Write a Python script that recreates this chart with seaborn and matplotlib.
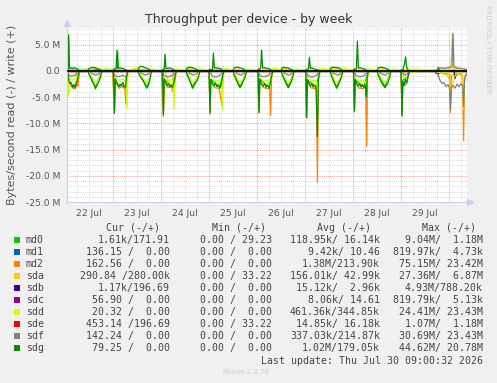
import pandas as pd
import seaborn as sns
import matplotlib
matplotlib.use('Agg')
import matplotlib.pyplot as plt
from matplotlib.patches import Rectangle

W, H = 497, 383

# hours since 22 Jul 00:00 -> MB/s ; read is drawn negative, write positive
md0_read = [(1.0, -0.2), (1.5, -0.4), (2.0, -1.8), (4.0, -2.9), (5.0, -3.0), (6.5, -1.0), (7.5, 0.0),
            (11.5, 0.0), (15.2, -3.1), (18.3, 0.0), (24.0, 0.0), (24.7, -7.6), (25.1, -1.6), (27.0, -2.8), (30.2, -3.0), (31.5, 0.0),
            (36.6, 0.0), (41.0, -3.1), (43.2, 0.0), (48.5, 0.0), (49.2, -8.0), (49.6, -1.6), (53.7, -3.0), (55.6, 0.0),
            (60.6, 0.0), (63.8, -3.1), (67.4, 0.0), (72.0, 0.0), (72.5, -7.6), (72.9, -1.6), (77.4, -3.1), (79.5, 0.0),
            (84.1, 0.0), (87.5, -3.0), (90.9, 0.0), (96.4, 0.0), (97.0, -7.5), (97.4, -1.6), (102.0, -3.1), (104.0, 0.0),
            (108.1, 0.0), (111.7, -3.0), (114.6, 0.0), (120.4, 0.0), (120.8, -8.4), (121.2, -1.7), (125.5, -3.0), (127.5, 0.0),
            (132.6, 0.0), (135.8, -3.1), (138.9, 0.0), (144.3, 0.0), (144.7, -7.3), (145.1, -1.7), (149.4, -3.0), (151.8, 0.0),
            (156.1, 0.0), (160.0, -3.0), (162.9, 0.0), (168.1, 0.0), (168.5, -8.2), (168.9, -1.8), (171.5, -0.9), (172.3, 0.0),
            (201.0, 0.0)]
md0_write = [(1.0, 0.0), (1.8, 6.5), (2.2, 0.3), (26.0, 0.3), (26.3, 3.7), (26.7, 0.2), (201.0, 0.1)]
md1_read = [(1.0, 0.0), (120.0, 0.0), (120.8, -0.3), (121.5, 0.0), (201.0, 0.0)]
md1_write = [(1.0, 0.0), (201.0, 0.0)]
md2_read = [(1.0, 0.0), (1.5, -0.4), (2.5, -2.6), (4.0, -3.3), (5.2, -3.4), (6.0, -2.2), (6.5, -3.0), (7.2, 0.0),
            (23.8, 0.0), (24.7, -8.0), (25.2, -2.0), (27.0, -3.3), (28.5, -3.0), (30.0, -3.4), (30.5, -6.4), (31.0, -1.2), (31.6, 0.0),
            (48.2, 0.0), (49.2, -8.7), (49.6, -2.0), (51.5, -3.2), (53.0, -3.0), (54.0, -4.0), (54.6, -3.5), (55.6, 0.0),
            (72.0, 0.0), (72.5, -8.2), (72.9, -2.0), (75.0, -3.2), (77.0, -3.3), (78.5, -6.5), (79.0, -1.2), (79.6, 0.0),
            (96.3, 0.0), (97.0, -8.0), (97.4, -2.0), (99.5, -3.2), (101.5, -3.4), (102.3, -3.0), (102.8, -8.5), (103.3, -1.0), (104.0, 0.0),
            (120.3, 0.0), (120.8, -9.0), (121.2, -2.0), (123.0, -3.2), (125.0, -3.4), (125.7, -3.0), (126.2, -21.2), (126.7, -1.5), (127.6, 0.0),
            (144.2, 0.0), (144.7, -7.8), (145.1, -2.0), (147.0, -3.3), (149.0, -3.4), (150.3, -3.0), (150.8, -14.4), (151.3, -1.0), (152.0, 0.0),
            (168.0, 0.0), (168.5, -8.5), (168.9, -2.5), (170.0, -2.8), (171.0, -2.0), (172.4, 0.0),
            (185.0, 0.0), (186.0, -0.4), (190.0, -0.5), (192.2, -0.6), (192.7, -7.9), (193.2, -0.8), (198.0, -0.5),
            (198.8, -1.0), (199.3, -13.3), (199.8, -1.0), (201.0, -0.3)]
md2_write = [(1.0, 0.0), (186.0, 0.0), (188.0, 0.3), (192.0, 0.2), (196.0, 0.4), (201.0, 0.2)]
sda_read = [(1.0, 0.0), (5.5, 0.0), (6.0, -2.5), (6.5, 0.0), (48.0, 0.0), (50.0, -0.3), (53.5, -3.5), (54.0, -0.5), (55.0, 0.0),
            (185.5, 0.0), (187.0, -0.3), (189.0, -0.5), (191.0, -0.8), (192.0, -1.5), (193.0, -3.8), (194.0, -2.5), (195.0, -1.0),
            (197.0, -0.6), (198.5, -1.0), (199.3, -7.4), (199.8, -1.0), (201.0, -0.3)]
sda_write = [(1.0, 0.0), (185.5, 0.0), (187.0, 0.4), (189.0, 0.5), (191.0, 0.3), (193.0, 0.6), (193.7, 6.9), (194.3, 0.5),
             (196.0, 0.4), (198.0, 0.3), (201.0, 0.2)]
sdb_read = [(1.0, 0.0), (185.5, 0.0), (186.0, -0.4), (186.5, -0.6), (187.0, -0.3), (188.0, 0.0), (194.5, 0.0), (195.0, -1.4),
            (195.6, -0.5), (196.2, 0.0), (201.0, 0.0)]
sdb_write = [(1.0, 0.0), (201.0, 0.0)]
sdc_read = [(1.0, 0.0), (185.0, 0.0), (185.5, -0.5), (186.0, -0.3), (186.5, 0.0), (201.0, 0.0)]
sdc_write = [(1.0, 0.0), (201.0, 0.0)]
sdd_read = [(1.0, 0.0), (1.4, -0.5), (1.8, -4.9), (2.2, -1.2), (3.5, -1.8), (5.0, -1.5), (6.5, -1.0), (7.5, 0.0),
            (11.8, 0.0), (12.5, -0.6), (14.0, -1.5), (15.2, -2.6), (16.5, -1.9), (17.5, -0.9), (18.3, 0.0),
            (24.2, 0.0), (25.0, -1.2), (27.0, -1.8), (29.0, -1.5), (30.6, -2.0), (31.0, -7.2), (31.4, -0.8), (32.0, 0.0),
            (36.8, 0.0), (37.8, -0.8), (39.5, -1.6), (41.0, -2.5), (42.2, -1.5), (43.0, 0.0),
            (48.5, 0.0), (49.5, -1.2), (51.5, -1.9), (53.5, -1.6), (54.1, -2.2), (54.5, -7.3), (54.9, -1.0), (55.5, 0.0),
            (60.8, 0.0), (61.8, -0.8), (63.8, -2.5), (65.5, -1.6), (67.2, 0.0),
            (72.8, 0.0), (73.5, -1.2), (75.5, -1.9), (77.5, -1.7), (78.3, -2.0), (78.7, -7.2), (79.1, -0.9), (79.7, 0.0),
            (84.3, 0.0), (85.3, -0.9), (87.5, -2.4), (89.2, -1.5), (90.7, 0.0),
            (96.8, 0.0), (97.6, -1.3), (99.5, -1.9), (101.5, -1.8), (102.4, -3.0), (103.0, -1.0), (103.8, 0.0),
            (108.3, 0.0), (109.2, -0.8), (111.7, -2.4), (113.3, -1.4), (114.5, 0.0),
            (120.8, 0.0), (121.5, -1.3), (123.5, -1.9), (125.5, -1.8), (126.4, -3.5), (127.0, -1.0), (127.8, 0.0),
            (132.8, 0.0), (133.8, -0.9), (135.8, -2.5), (137.5, -1.5), (138.8, 0.0),
            (144.8, 0.0), (145.5, -1.3), (147.5, -1.9), (149.5, -1.7), (150.5, -2.5), (151.2, -1.0), (152.0, 0.0),
            (156.3, 0.0), (157.3, -0.9), (160.0, -2.4), (161.8, -1.4), (162.8, 0.0),
            (168.6, 0.0), (169.2, -1.0), (170.5, -1.6), (172.0, 0.0), (175.0, -0.3), (178.0, 0.0), (181.0, -0.2),
            (184.0, 0.0), (188.0, -0.4), (191.0, -0.2), (194.5, -1.2), (196.0, -0.3), (201.0, 0.0)]
sdd_write = [(1.0, 0.2), (3.0, 0.4), (6.0, 0.3), (9.0, 0.2), (10.5, 0.4), (13.0, 0.3), (16.0, 0.5), (19.0, 0.3), (21.0, 0.4),
             (23.0, 0.2), (27.0, 0.4), (30.0, 0.3), (33.0, 0.2), (34.5, 0.5), (37.5, 0.4), (40.0, 0.3), (44.0, 0.4),
             (46.0, 0.2), (50.5, 0.4), (53.0, 0.3), (57.0, 0.4), (59.0, 0.2), (62.0, 0.5), (65.5, 0.3), (68.5, 0.4),
             (71.0, 0.2), (75.0, 0.4), (78.0, 0.3), (81.0, 0.5), (83.0, 0.2), (86.0, 0.4), (89.0, 0.3), (92.0, 0.4),
             (95.0, 0.2), (99.0, 0.4), (102.0, 0.3), (105.0, 0.5), (107.0, 0.3), (110.0, 0.5), (113.0, 0.3), (116.0, 0.4),
             (119.0, 0.2), (123.0, 0.4), (126.0, 0.3), (129.0, 0.5), (131.0, 0.3), (134.0, 0.5), (137.0, 0.4), (140.0, 0.6),
             (142.0, 0.3), (147.0, 0.4), (150.0, 0.3), (153.0, 0.4), (155.0, 0.2), (158.0, 0.5), (161.0, 0.3), (164.0, 0.4),
             (167.0, 0.2), (171.0, 0.4), (174.0, 0.3), (177.0, 0.4), (180.0, 0.2), (183.0, 0.3), (186.0, 0.2), (190.0, 0.3),
             (194.0, 0.2), (198.0, 0.3), (201.0, 0.2)]
sde_read = [(1.0, 0.0), (201.0, 0.0)]
sde_write = [(1.0, 0.0), (1.2, 0.3), (1.8, 0.0), (24.2, 0.0), (24.6, 0.4), (25.0, 0.0), (48.6, 0.0), (49.0, 0.3), (49.4, 0.0),
             (72.0, 0.0), (72.4, 0.4), (72.8, 0.0), (96.5, 0.0), (96.9, 0.4), (97.3, 0.0), (120.3, 0.0), (120.7, 0.3),
             (121.1, 0.0), (144.2, 0.0), (144.6, 0.4), (145.0, 0.0), (168.0, 0.0), (168.4, 0.3), (168.8, 0.0),
             (186.0, 0.0), (186.7, 0.7), (187.3, 0.0), (201.0, 0.0)]
sdf_read = [(1.0, -0.3), (1.5, -0.6), (3.0, -1.0), (5.0, -0.8), (7.0, 0.0),
            (12.0, 0.0), (13.5, -0.5), (15.5, -0.8), (17.5, -0.4), (18.5, 0.0),
            (24.0, 0.0), (25.0, -0.9), (27.0, -1.1), (29.0, -0.8), (30.5, -1.2), (31.5, 0.0),
            (37.0, 0.0), (38.5, -0.5), (40.5, -0.8), (42.5, -0.3), (43.3, 0.0),
            (48.5, 0.0), (49.5, -0.9), (51.5, -1.1), (53.5, -0.9), (55.5, 0.0),
            (61.0, 0.0), (62.5, -0.5), (64.5, -0.8), (66.5, -0.3), (67.3, 0.0),
            (72.5, 0.0), (73.5, -0.9), (75.5, -1.2), (77.5, -0.8), (79.5, 0.0),
            (84.5, 0.0), (86.0, -0.5), (88.0, -0.8), (90.0, -0.3), (90.8, 0.0),
            (96.5, 0.0), (97.5, -0.9), (99.5, -1.1), (101.5, -0.9), (103.8, 0.0),
            (108.5, 0.0), (110.0, -0.5), (112.0, -0.8), (114.0, -0.3), (114.5, 0.0),
            (120.5, 0.0), (121.5, -0.9), (123.5, -1.2), (125.5, -0.9), (127.5, 0.0),
            (133.0, 0.0), (134.5, -0.5), (136.5, -0.8), (138.5, -0.3), (139.0, 0.0),
            (144.5, 0.0), (145.5, -0.9), (147.5, -1.1), (149.5, -0.9), (151.8, 0.0),
            (156.5, 0.0), (158.0, -0.5), (160.0, -0.8), (162.0, -0.3), (162.8, 0.0),
            (168.5, 0.0), (169.5, -0.8), (171.0, -0.6), (172.5, 0.0),
            (185.5, 0.0), (186.5, -0.8), (187.5, -1.8), (188.5, -2.4), (189.5, -2.2), (190.5, -3.0), (191.5, -2.6),
            (192.2, -3.2), (192.7, -7.4), (193.2, -3.0), (194.0, -2.8), (195.0, -3.3), (196.0, -2.5), (197.0, -3.0),
            (198.0, -2.4), (198.8, -2.8), (199.3, -6.8), (199.8, -1.5), (200.5, -0.8), (201.0, -0.5)]
sdf_write = [(1.0, 0.0), (185.0, 0.0), (186.5, 0.4), (188.0, 0.6), (190.0, 0.5), (192.0, 0.7), (193.5, 0.8), (194.0, 7.2),
             (194.5, 0.8), (196.0, 0.6), (198.0, 0.5), (199.0, 0.4), (201.0, 0.3)]
sdg_read = [(1.0, -0.3), (1.5, -0.5), (2.0, -2.0), (2.5, -2.4), (3.0, -2.2), (3.5, -2.8), (4.0, -3.1), (4.5, -2.6), (5.0, -3.2),
            (5.5, -2.7), (6.0, -2.0), (6.5, -1.2), (7.0, -0.3), (7.5, 0.0),
            (11.5, 0.0), (12.0, -0.7), (13.0, -1.4), (14.0, -2.3), (14.5, -2.6), (15.2, -3.4), (15.8, -2.9), (16.5, -2.4),
            (17.0, -2.0), (17.8, -1.1), (18.5, 0.0),
            (23.5, 0.0), (24.3, -0.4), (24.7, -8.1), (25.1, -1.5), (25.7, -2.2), (26.3, -2.6), (27.0, -3.0), (27.7, -2.5),
            (28.3, -2.8), (29.0, -2.2), (29.6, -2.9), (30.2, -3.2), (30.8, -1.0), (31.5, 0.0),
            (36.5, 0.0), (37.2, -0.8), (38.0, -1.3), (39.0, -1.8), (40.0, -2.6), (41.0, -3.3), (41.8, -2.6), (42.5, -1.5), (43.3, 0.0),
            (47.5, 0.0), (48.8, -0.4), (49.2, -8.4), (49.6, -1.5), (50.3, -2.1), (51.0, -2.8), (51.7, -2.4), (52.3, -3.1),
            (53.0, -2.6), (53.7, -3.2), (54.3, -2.5), (55.0, -1.0), (55.7, 0.0),
            (60.5, 0.0), (61.2, -0.9), (62.0, -1.5), (63.0, -2.5), (63.8, -3.3), (64.5, -2.8), (65.3, -2.2), (66.2, -1.8),
            (67.0, -0.8), (67.5, 0.0),
            (71.5, 0.0), (72.1, -0.4), (72.5, -8.0), (72.9, -1.6), (73.6, -2.2), (74.5, -2.9), (75.2, -2.3), (76.0, -3.0),
            (76.7, -2.6), (77.4, -3.3), (78.0, -2.7), (78.7, -1.2), (79.5, 0.0),
            (84.0, 0.0), (84.7, -0.9), (85.5, -1.6), (86.5, -2.5), (87.5, -3.2), (88.3, -2.7), (89.0, -2.0), (89.8, -1.4),
            (90.5, -0.5), (91.0, 0.0),
            (95.5, 0.0), (96.6, -0.4), (97.0, -7.9), (97.4, -1.5), (98.2, -2.4), (99.0, -2.9), (99.8, -2.4), (100.5, -3.1),
            (101.2, -2.7), (102.0, -3.3), (102.6, -2.5), (103.2, -1.0), (104.0, 0.0),
            (108.0, 0.0), (108.7, -0.8), (109.5, -1.5), (110.5, -2.4), (111.7, -3.2), (112.5, -2.6), (113.3, -1.9),
            (114.0, -1.0), (114.7, 0.0),
            (119.5, 0.0), (120.4, -0.4), (120.8, -8.9), (121.2, -1.6), (122.0, -2.3), (122.7, -2.9), (123.4, -2.4),
            (124.1, -3.1), (124.8, -2.7), (125.5, -3.2), (126.2, -12.5), (126.7, -1.5), (127.5, 0.0),
            (132.5, 0.0), (133.2, -0.9), (134.0, -1.7), (135.0, -2.6), (135.8, -3.3), (136.6, -2.7), (137.4, -2.0),
            (138.2, -1.2), (139.0, 0.0),
            (143.5, 0.0), (144.3, -0.4), (144.7, -7.7), (145.1, -1.6), (145.8, -2.3), (146.6, -2.9), (147.3, -2.4),
            (148.0, -3.1), (148.7, -2.6), (149.4, -3.2), (150.1, -2.6), (150.6, -5.0), (151.1, -1.0), (151.8, 0.0),
            (156.0, 0.0), (156.7, -0.9), (157.5, -1.6), (158.5, -2.4), (160.0, -3.2), (160.8, -2.7), (161.6, -2.1),
            (162.3, -1.2), (163.0, 0.0),
            (167.5, 0.0), (168.1, -0.5), (168.5, -8.6), (168.9, -2.0), (169.5, -2.8), (170.2, -1.5), (170.8, -2.4),
            (171.5, -1.0), (172.3, 0.0), (201.0, 0.0)]
sdg_write = [(1.0, 0.0), (1.5, 0.3), (1.8, 6.9), (2.2, 0.5), (3.0, 0.6), (4.0, 0.5), (5.0, 0.6), (6.0, 0.4), (7.0, 0.1), (8.0, 0.0),
             (11.5, 0.0), (12.0, 0.5), (13.0, 0.6), (14.0, 0.7), (15.0, 0.6), (16.5, 0.4), (17.5, 0.2), (18.5, 0.0),
             (23.5, 0.0), (24.5, 0.2), (25.5, 0.4), (26.0, 4.0), (26.5, 0.5), (27.5, 0.6), (28.5, 0.5), (29.5, 0.4), (30.5, 0.2), (31.5, 0.0),
             (36.5, 0.0), (37.0, 0.7), (38.0, 0.9), (39.0, 0.8), (40.0, 0.6), (41.0, 0.5), (42.0, 0.3), (43.0, 0.0),
             (47.5, 0.0), (49.0, 0.2), (49.6, 0.3), (50.0, 3.2), (50.5, 0.5), (51.5, 0.5), (52.5, 0.6), (53.5, 0.4), (54.5, 0.2), (55.5, 0.0),
             (60.5, 0.0), (61.0, 0.6), (62.0, 0.7), (63.0, 0.7), (64.0, 0.6), (65.0, 0.4), (66.0, 0.3), (67.0, 0.0),
             (71.5, 0.0), (73.0, 0.2), (73.8, 0.3), (74.2, 3.4), (74.7, 0.6), (75.5, 0.6), (76.5, 0.5), (77.5, 0.5), (78.5, 0.2), (79.5, 0.0),
             (84.0, 0.0), (84.5, 0.6), (85.5, 0.7), (86.5, 0.7), (87.5, 0.6), (88.5, 0.5), (89.5, 0.3), (90.5, 0.0),
             (95.5, 0.0), (97.0, 0.3), (97.8, 0.5), (98.3, 4.0), (98.8, 0.6), (99.5, 0.7), (100.5, 0.5), (101.5, 0.5), (102.5, 0.3), (103.5, 0.0),
             (108.0, 0.0), (108.5, 0.6), (109.5, 0.7), (110.5, 0.6), (111.5, 0.6), (112.5, 0.4), (113.5, 0.2), (114.5, 0.0),
             (119.5, 0.0), (121.0, 0.3), (121.7, 0.4), (122.2, 2.6), (122.7, 0.5), (123.5, 0.6), (124.5, 0.4), (125.5, 0.3), (126.5, 0.2), (127.5, 0.0),
             (132.5, 0.0), (133.0, 0.6), (134.0, 0.7), (135.0, 0.7), (136.0, 0.6), (137.0, 0.6), (138.0, 0.3), (139.0, 0.0),
             (143.5, 0.0), (145.0, 0.3), (145.7, 0.4), (146.2, 5.7), (146.7, 0.6), (147.5, 0.6), (148.5, 0.5), (149.5, 0.4), (150.5, 0.2), (151.5, 0.0),
             (156.0, 0.0), (156.5, 0.6), (157.5, 0.7), (158.5, 0.7), (159.5, 0.6), (160.5, 0.5), (161.5, 0.3), (162.5, 0.0),
             (167.5, 0.0), (169.0, 0.3), (169.8, 1.5), (170.3, 2.7), (170.8, 0.8), (171.5, 0.2), (172.5, 0.0), (201.0, 0.0)]

devices = ['md0', 'md1', 'md2', 'sda', 'sdb', 'sdc', 'sdd', 'sde', 'sdf', 'sdg']
colors = ['#00CC00', '#0066B3', '#FF8000', '#FFCC00', '#330099', '#990099', '#CCFF00', '#FF0000', '#808080', '#008F00']
series = {'md0': (md0_read, md0_write), 'md1': (md1_read, md1_write), 'md2': (md2_read, md2_write),
          'sda': (sda_read, sda_write), 'sdb': (sdb_read, sdb_write), 'sdc': (sdc_read, sdc_write),
          'sdd': (sdd_read, sdd_write), 'sde': (sde_read, sde_write), 'sdf': (sdf_read, sdf_write),
          'sdg': (sdg_read, sdg_write)}

cur_vals = ['1.61k/171.91', '136.15 /  0.00', '162.56 /  0.00', '290.84 /280.00k', '1.17k/196.69',
            '56.90 /  0.00', '20.32 /  0.00', '453.14 /196.69', '142.24 /  0.00', '79.25 /  0.00']
min_vals = ['0.00 / 29.23', '0.00 /  0.00', '0.00 /  0.00', '0.00 / 33.22', '0.00 /  0.00',
            '0.00 /  0.00', '0.00 /  0.00', '0.00 / 33.22', '0.00 /  0.00', '0.00 /  0.00']
avg_vals = ['118.95k/ 16.14k', '9.42k/ 10.46', '1.38M/213.90k', '156.01k/ 42.99k', '15.12k/  2.96k',
            '8.06k/ 14.61', '461.36k/344.85k', '14.85k/ 16.18k', '337.03k/214.87k', '1.02M/179.05k']
max_vals = ['9.04M/  1.18M', '819.97k/  4.73k', '75.15M/ 23.42M', '27.36M/  6.87M', '4.93M/788.20k',
            '819.79k/  5.13k', '24.41M/ 23.43M', '1.07M/  1.18M', '30.69M/ 23.43M', '44.62M/ 20.78M']

day_labels = ['22 Jul', '23 Jul', '24 Jul', '25 Jul', '26 Jul', '27 Jul', '28 Jul', '29 Jul']
y_ticks = [5, 0, -5, -10, -15, -20, -25]
y_labels = ['5.0 M', '0.0', '-5.0 M', '-10.0 M', '-15.0 M', '-20.0 M', '-25.0 M']


def fx(px):
    return px / W


def fy(py):
    return 1 - py / H


sns.set_style('white')
fig = plt.figure(figsize=(W / 100, H / 100), dpi=100, facecolor='#F0F0F0')
ax = fig.add_axes([fx(67), fy(202), fx(400), 174 / H])
ax.set_facecolor('white')

# grid: minor gray every 6 h / 1 M, major red at midnight / 5 M
for h in range(6, 201, 6):
    major = h % 24 == 0
    ax.axvline(h, color='#F0A0A0' if major else '#D8D8D8', lw=0.7, ls=(0, (1, 1)), zorder=0)
for v in range(-25, 9):
    major = v % 5 == 0
    ax.axhline(v, color='#F0A0A0' if major else '#D8D8D8', lw=0.7, ls=(0, (1, 1)), zorder=0)

for name, col in zip(devices, colors):
    rd, wr = series[name]
    for pairs in (rd, wr):
        df = pd.DataFrame(pairs, columns=['hour', 'value'])
        sns.lineplot(data=df, x='hour', y='value', color=col, lw=0.9, estimator=None, sort=False, ax=ax)

ax.axhline(0, color='black', lw=1.1, zorder=5)

ax.set_xlim(1, 201)
ax.set_ylim(-25, 8.2)
ax.set_xticks([12 + 24 * i for i in range(len(day_labels))])
ax.set_xticklabels(day_labels)
ax.set_yticks(y_ticks)
ax.set_yticklabels(y_labels)
ax.tick_params(length=0, labelsize=6.6, labelcolor='#555555')
ax.tick_params(axis='y', pad=5)
ax.tick_params(axis='x', pad=5)
ax.set_xlabel('')
ax.set_ylabel('')
for s in ['top', 'right']:
    ax.spines[s].set_visible(False)
for s in ['left', 'bottom']:
    ax.spines[s].set_color('#CCCCEE')
    ax.spines[s].set_linewidth(0.8)
ax.plot([0], [1 + 5 / 174], marker='^', ms=4, color='#CCCCFF', transform=ax.transAxes, clip_on=False)
ax.plot([1 + 3 / 400], [0], marker='>', ms=4, color='#CCCCFF', transform=ax.transAxes, clip_on=False)

fig.text(0.5, fy(19), 'Throughput per device - by week', ha='center', va='center', fontsize=9, color='#333333')
fig.text(fx(12), fy(115), 'Bytes/second read (-) / write (+)', rotation=90, ha='center', va='center',
         fontsize=8, color='#555555')
fig.text(fx(488), fy(5), 'RRDTOOL / TOBI OETIKER', rotation=-90, ha='center', va='top', fontsize=5, color='#CCCCCC')

mono = dict(family='DejaVu Sans Mono', fontsize=7.1, color='#444444', va='center')
for x, head in zip([160, 266, 371, 476], ['Cur (-/+)', 'Min (-/+)', 'Avg (-/+)', 'Max (-/+)']):
    fig.text(fx(x), fy(228), head, ha='right', **mono)
for i, (name, col) in enumerate(zip(devices, colors)):
    yc = 240 + 12 * i
    fig.patches.append(Rectangle((fx(14), fy(yc + 3)), 6 / W, 6 / H, transform=fig.transFigure,
                                 facecolor=col, edgecolor='none'))
    fig.text(fx(26), fy(yc), name, ha='left', **mono)
    fig.text(fx(170), fy(yc), cur_vals[i], ha='right', **mono)
    fig.text(fx(272), fy(yc), min_vals[i], ha='right', **mono)
    fig.text(fx(380), fy(yc), avg_vals[i], ha='right', **mono)
    fig.text(fx(483), fy(yc), max_vals[i], ha='right', **mono)
fig.text(fx(483), fy(361), 'Last update: Thu Jul 30 09:00:32 2026', ha='right', **mono)
fig.text(fx(223), fy(372), 'Munin 2.0.76', ha='left', va='center', fontsize=5, color='#CCCCCC')

plt.savefig('out.png', dpi=100, facecolor=fig.get_facecolor())
